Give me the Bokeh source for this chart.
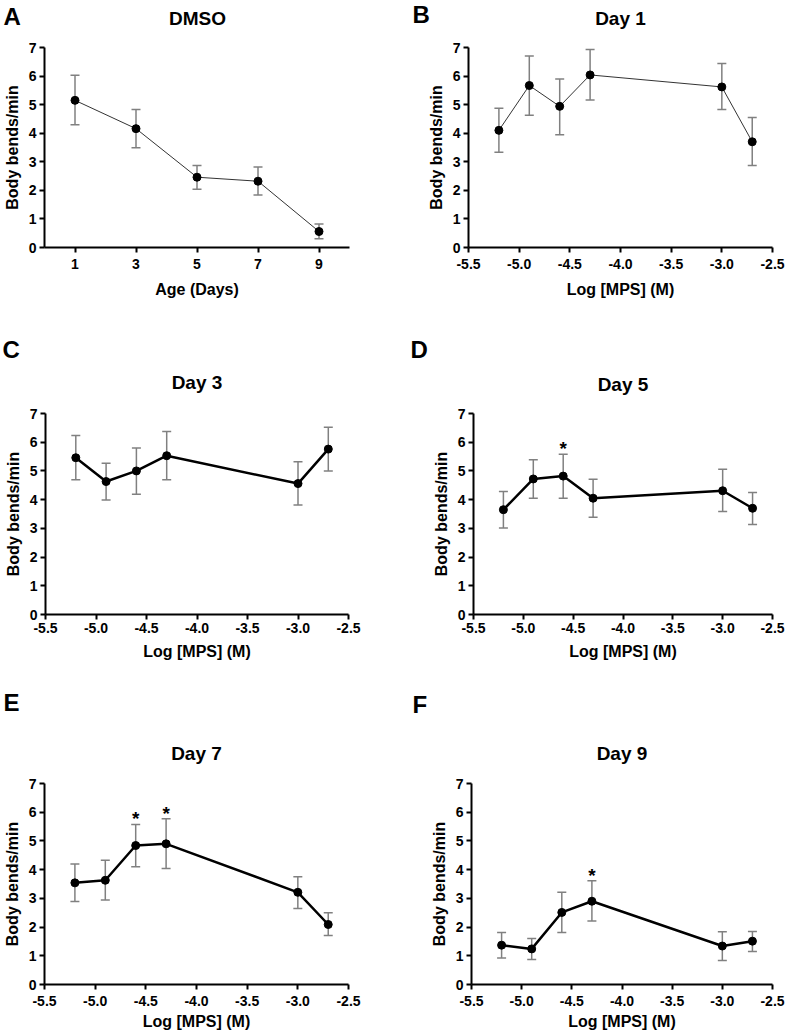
from bokeh.plotting import figure
from bokeh.layouts import column, row
from bokeh.models import Whisker, TeeHead, ColumnDataSource, Label, FixedTicker, Range1d
from bokeh.core.properties import value
from bokeh.embed import file_html
from bokeh.resources import INLINE

# ---------------- data ----------------
dmso_age = [1, 3, 5, 7, 9]
dmso_mean = [5.15, 4.16, 2.46, 2.32, 0.56]
dmso_upper = [6.03, 4.83, 2.87, 2.82, 0.82]
dmso_lower = [4.30, 3.49, 2.04, 1.84, 0.31]

log_mps = [-5.2, -4.9, -4.6, -4.3, -3.0, -2.7]

day1_mean = [4.10, 5.67, 4.94, 6.04, 5.62, 3.70]
day1_upper = [4.87, 6.70, 5.90, 6.93, 6.44, 4.55]
day1_lower = [3.33, 4.63, 3.95, 5.16, 4.83, 2.87]

day3_mean = [5.46, 4.63, 5.00, 5.53, 4.56, 5.76]
day3_upper = [6.23, 5.27, 5.80, 6.37, 5.32, 6.52]
day3_lower = [4.69, 3.99, 4.19, 4.69, 3.81, 5.00]

day5_mean = [3.65, 4.72, 4.82, 4.05, 4.31, 3.70]
day5_upper = [4.28, 5.39, 5.58, 4.71, 5.06, 4.25]
day5_lower = [3.01, 4.05, 4.05, 3.39, 3.59, 3.13]

day7_mean = [3.54, 3.63, 4.84, 4.90, 3.21, 2.09]
day7_upper = [4.20, 4.33, 5.57, 5.77, 3.75, 2.50]
day7_lower = [2.89, 2.94, 4.10, 4.04, 2.65, 1.71]

day9_mean = [1.37, 1.24, 2.51, 2.90, 1.34, 1.51]
day9_upper = [1.81, 1.60, 3.21, 3.61, 1.84, 1.85]
day9_lower = [0.92, 0.87, 1.81, 2.21, 0.84, 1.15]

day5_stars = [2]
day7_stars = [2, 3]
day9_stars = [3]

y_ticks = [0, 1, 2, 3, 4, 5, 6, 7]
age_ticks = [1, 3, 5, 7, 9]
mps_ticks = [-5.5, -5.0, -4.5, -4.0, -3.5, -3.0, -2.5]
mps_tick_labels = ["-5.5", "-5.0", "-4.5", "-4.0", "-3.5", "-3.0", "-2.5"]

FONT = "Liberation Sans"


def panel(letter, title, xs, mean, upper, lower, stars, xr, xticks, xlabels, xlabel,
          lw, line_color, width, height, bl, br, bt, bb, title_dist,
          tick_standoff, xlab_standoff, letter_x, letter_y):
    p = figure(width=width, height=height, output_backend="svg", toolbar_location=None,
               x_range=Range1d(*xr), y_range=Range1d(0, 7), title=None,
               min_border_left=bl, min_border_right=br, min_border_top=bt,
               min_border_bottom=bb)
    p.outline_line_color = None
    p.grid.visible = False
    p.background_fill_color = "white"
    p.border_fill_color = "white"

    frame_w = width - bl - br
    frame_h = height - bt - bb

    # panel title, centred over the frame
    p.add_layout(Label(x=frame_w / 2, y=title_dist, x_units="screen", y_units="screen",
                       text=title, text_font=FONT, text_font_size="19px",
                       text_font_style="bold", text_color="black",
                       text_align="center", text_baseline="middle"), "above")
    # panel letter
    p.add_layout(Label(x=letter_x - (width - br), y=frame_h + bt - letter_y,
                       x_units="screen", y_units="screen", text=letter,
                       text_font=FONT, text_font_size="24px", text_font_style="bold",
                       text_color="black", text_baseline="top", text_align="left"),
                 "right")

    for ax in (p.xaxis[0], p.yaxis[0]):
        ax.axis_line_width = 2
        ax.axis_line_color = "black"
        ax.major_tick_line_width = 2
        ax.major_tick_line_color = "black"
        ax.major_tick_out = 5
        ax.major_tick_in = 0
        ax.minor_tick_line_color = None
        ax.major_label_text_font = FONT
        ax.major_label_text_font_size = "14px"
        ax.major_label_text_font_style = "bold"
        ax.major_label_text_color = "black"
        ax.axis_label_text_font = FONT
        ax.axis_label_text_font_size = "16px"
        ax.axis_label_text_font_style = "bold"
        ax.axis_label_text_color = "black"

    p.xaxis.ticker = FixedTicker(ticks=xticks)
    p.xaxis.major_label_overrides = {t: l for t, l in zip(xticks, xlabels)}
    p.xaxis.axis_label = xlabel
    p.xaxis.major_label_standoff = tick_standoff
    p.xaxis.axis_label_standoff = xlab_standoff

    p.yaxis.ticker = FixedTicker(ticks=y_ticks)
    p.yaxis.axis_label = "Body bends/min"
    p.yaxis.major_label_standoff = 3
    p.yaxis.axis_label_standoff = 5

    src = ColumnDataSource(dict(x=xs, y=mean, upper=upper, lower=lower))
    w = Whisker(source=src, base="x", upper="upper", lower="lower",
                line_color="#808080", line_width=1.5,
                upper_head=TeeHead(size=9, line_color="#808080", line_width=1.5),
                lower_head=TeeHead(size=9, line_color="#808080", line_width=1.5))
    p.add_layout(w)
    p.line("x", "y", source=src, line_width=lw, line_color=line_color)
    p.scatter("x", "y", source=src, size=8, marker="circle", fill_color="black",
              line_color="black")

    if stars:
        sx = [xs[i] for i in stars]
        sy = [upper[i] + 0.2 for i in stars]
        p.text(x=sx, y=sy, text=["*"] * len(stars), text_font=value(FONT),
               text_font_size="19px", text_font_style="bold", text_align="center",
               text_baseline="middle", text_color="black")
    return p


W = 395

pA = panel("A", "DMSO", dmso_age, dmso_mean, dmso_upper, dmso_lower, [], (0, 10),
           age_ticks, [str(t) for t in age_ticks], "Age (Days)", 1, "#333333",
           W, 330, 43, 46, 44, 83, 29, 6, 9, 3, 2)
pB = panel("B", "Day 1", log_mps, day1_mean, day1_upper, day1_lower, [], (-5.5, -2.5),
           mps_ticks, mps_tick_labels, "Log [MPS] (M)", 1, "#333333",
           W, 330, 73, 18, 47, 81, 29, 6, 9, 17, 2)
pC = panel("C", "Day 3", log_mps, day3_mean, day3_upper, day3_lower, [], (-5.5, -2.5),
           mps_ticks, mps_tick_labels, "Log [MPS] (M)", 2.5, "black",
           W, 345, 45, 47, 83, 61, 31, 3, 7, 2, 5)
pD = panel("D", "Day 5", log_mps, day5_mean, day5_upper, day5_lower, day5_stars, (-5.5, -2.5),
           mps_ticks, mps_tick_labels, "Log [MPS] (M)", 2.5, "black",
           W, 345, 78, 18, 82, 61, 29, 3, 7, 15, 5)
pE = panel("E", "Day 7", log_mps, day7_mean, day7_upper, day7_lower, day7_stars, (-5.5, -2.5),
           mps_ticks, mps_tick_labels, "Log [MPS] (M)", 2.5, "black",
           W, 359, 44, 47, 108, 50, 30, 6, 4, 3, 13)
pF = panel("F", "Day 9", log_mps, day9_mean, day9_upper, day9_lower, day9_stars, (-5.5, -2.5),
           mps_ticks, mps_tick_labels, "Log [MPS] (M)", 2.5, "black",
           W, 359, 76, 18, 108, 50, 30, 6, 4, 17, 15)

layout = column(row(pA, pB), row(pC, pD), row(pE, pF))

open("out.html", "w").write(file_html(layout, INLINE))
